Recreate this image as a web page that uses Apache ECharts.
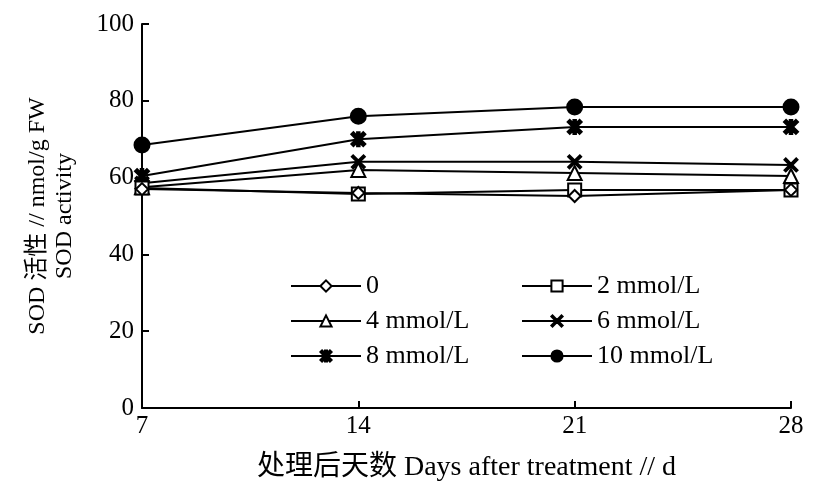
<!DOCTYPE html>
<html><head><meta charset="utf-8">
<script src="https://cdn.jsdelivr.net/npm/echarts@6/dist/echarts.min.js"></script>
<style>html,body{margin:0;padding:0;background:#fff}#c{width:825px;height:487px}</style>
</head><body><div id="c"></div>
<script>
const days = [7, 14, 21, 28];
const yTicks = [0, 20, 40, 60, 80, 100];
const names = ['0', '2 mmol/L', '4 mmol/L', '6 mmol/L', '8 mmol/L', '10 mmol/L'];
const s0 = [57.0, 56.0, 55.2, 56.8];
const s2 = [57.3, 55.7, 56.8, 56.8];
const s4 = [57.5, 62.0, 61.2, 60.4];
const s6 = [58.5, 64.1, 64.1, 63.3];
const s8 = [60.4, 70.0, 73.2, 73.2];
const s10 = [68.5, 76.0, 78.4, 78.4];
const values = [s0, s2, s4, s6, s8, s10];

const crossPath = 'path://M0,1 L1,0 L5,4 L9,0 L10,1 L6,5 L10,9 L9,10 L5,6 L1,10 L0,9 L4,5 Z';
const starPath = 'path://M0,1.5 L1.5,0 L5,3.5 L8.5,0 L10,1.5 L6.5,5 L10,8.5 L8.5,10 L5,6.5 L1.5,10 L0,8.5 L3.5,5 Z M4.1,0 L5.9,0 L5.9,10 L4.1,10 Z';
const symbols = ['emptyDiamond', 'emptyRect', 'emptyTriangle', crossPath, starPath, 'circle'];
const sizes = [12, 13, 14, 13, 14, 15];

const serif = '"Liberation Serif", "Noto Sans CJK SC", serif';
const chart = echarts.init(document.getElementById('c'));
const series = names.map((n, i) => ({
  name: n, type: 'line',
  data: days.map((d, j) => [d, values[i][j]]),
  symbol: symbols[i], symbolSize: sizes[i],
  showAllSymbol: true,
  lineStyle: {color: '#000', width: 2},
  itemStyle: {color: '#000', borderColor: '#000', borderWidth: 2},
  emphasis: {disabled: true},
  z: 10 - i
}));
const legendCommon = {
  orient: 'vertical', itemWidth: 70, itemHeight: 14, itemGap: 9,
  textStyle: {fontFamily: serif, fontSize: 26, color: '#000'},
  selectedMode: false
};
chart.setOption({
  animation: false,
  backgroundColor: '#fff',
  grid: {left: 142, right: 34, top: 24, bottom: 79, containLabel: false},
  legend: [
    Object.assign({left: 285, top: 268, data: ['0', '4 mmol/L', '8 mmol/L']}, legendCommon),
    Object.assign({left: 516, top: 268, data: ['2 mmol/L', '6 mmol/L', '10 mmol/L']}, legendCommon)
  ],
  xAxis: {
    type: 'value', min: 7, max: 28, interval: 7,
    name: '处理后天数 Days after treatment // d',
    nameLocation: 'middle', nameGap: 46,
    nameTextStyle: {fontFamily: serif, fontSize: 28, color: '#000'},
    axisLine: {lineStyle: {color: '#000', width: 2}},
    axisTick: {inside: true, length: 7, lineStyle: {color: '#000', width: 2}},
    axisLabel: {fontFamily: serif, fontSize: 25, color: '#000', margin: 6},
    splitLine: {show: false}
  },
  yAxis: {
    type: 'value', min: 0, max: 100, interval: 20,
    name: 'SOD 活性 // nmol/g FW\nSOD activity',
    nameLocation: 'middle', nameGap: 64,
    nameTextStyle: {fontFamily: serif, fontSize: 24, color: '#000', lineHeight: 27},
    axisLine: {show: true, lineStyle: {color: '#000', width: 2}},
    axisTick: {show: true, inside: true, length: 7, lineStyle: {color: '#000', width: 2}},
    axisLabel: {fontFamily: serif, fontSize: 25, color: '#000', margin: 8},
    splitLine: {show: false}
  },
  series: series
});
</script></body></html>
